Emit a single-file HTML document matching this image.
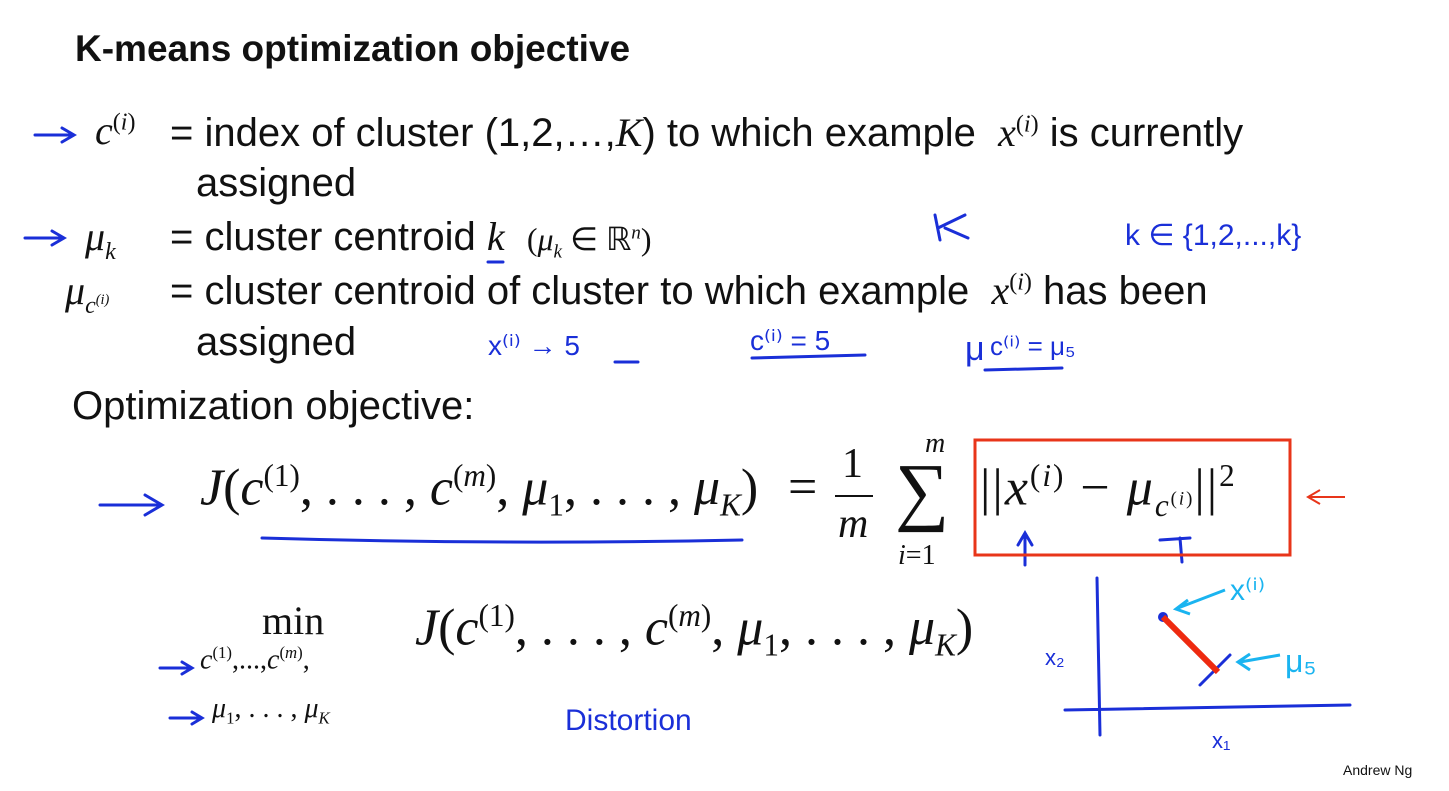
<!DOCTYPE html>
<html><head><meta charset="utf-8"><style>
body{margin:0;width:1449px;height:791px;background:#fff;position:relative;overflow:hidden;font-family:"Liberation Sans",sans-serif;color:#111}
.t{position:absolute;white-space:nowrap;font-size:40px;line-height:1.15}
.m{font-family:"Liberation Serif",serif;font-style:italic}
.r{font-family:"Liberation Serif",serif}
sup,sub{font-size:60%}
</style></head><body>
<div class="t" style="left:75px;top:28px;font-size:37px;font-weight:bold">K-means optimization objective</div>

<div class="t" style="left:95px;top:108px"><span class="m">c</span><sup class="r">(<i>i</i>)</sup></div>
<div class="t" style="left:170px;top:110px">= index of cluster (1,2,…,<span class="m">K</span>) to which example &nbsp;<span class="m">x</span><sup class="r">(<i>i</i>)</sup> is currently</div>
<div class="t" style="left:196px;top:160px">assigned</div>

<div class="t" style="left:85px;top:214px"><span class="m">μ<sub>k</sub></span></div>
<div class="t" style="left:170px;top:214px">= cluster centroid <span class="m">k</span> &nbsp;<span class="r" style="font-size:32px">(<i>μ<sub>k</sub></i> ∈ ℝ<sup><i>n</i></sup>)</span></div>

<div class="t" style="left:65px;top:268px"><span class="m">μ<sub>c<sup>(i)</sup></sub></span></div>
<div class="t" style="left:170px;top:268px">= cluster centroid of cluster to which example &nbsp;<span class="m">x</span><sup class="r">(<i>i</i>)</sup> has been</div>
<div class="t" style="left:196px;top:319px">assigned</div>

<div class="t" style="left:72px;top:383px">Optimization objective:</div>

<div class="t r" style="left:200px;top:458px;font-size:52px"><i>J</i>(<i>c</i><sup>(1)</sup>, . . . , <i>c</i><sup>(<i>m</i>)</sup>, <i>μ</i><sub>1</sub>, . . . , <i>μ<sub>K</sub></i>)</div>
<div class="t r" style="left:788px;top:458px;font-size:52px">=</div>
<div class="t r" style="left:842px;top:440px;font-size:42px">1</div>
<div style="position:absolute;left:835px;top:495px;width:38px;height:2px;background:#111"></div>
<div class="t r m" style="left:838px;top:500px;font-size:42px">m</div>
<div class="t r" style="left:895px;top:448px;font-size:76px">∑</div>
<div class="t r m" style="left:925px;top:428px;font-size:28px">m</div>
<div class="t r" style="left:898px;top:540px;font-size:28px"><i>i</i>=1</div>
<div class="t r" style="left:980px;top:458px;font-size:52px;letter-spacing:2px">||<i>x</i><sup>(<i>i</i>)</sup> − <i>μ</i><sub><i>c</i><sup>(<i>i</i>)</sup></sub>||<sup>2</sup></div>

<div class="t r" style="left:262px;top:598px;font-size:40px">min</div>
<div class="t r" style="left:200px;top:643px;font-size:28px"><i>c</i><sup>(1)</sup>,...,<i>c</i><sup>(<i>m</i>)</sup>,</div>
<div class="t r" style="left:212px;top:693px;font-size:28px"><i>μ</i><sub>1</sub>, . . . , <i>μ<sub>K</sub></i></div>
<div class="t r" style="left:415px;top:598px;font-size:52px"><i>J</i>(<i>c</i><sup>(1)</sup>, . . . , <i>c</i><sup>(<i>m</i>)</sup>, <i>μ</i><sub>1</sub>, . . . , <i>μ<sub>K</sub></i>)</div>

<div class="t" style="left:1343px;top:762px;font-size:14px">Andrew Ng</div>

<svg style="position:absolute;left:0;top:0" width="1449" height="791">
<g stroke="#1a2fd8" stroke-width="3" fill="none" stroke-linecap="round">
<path d="M35 135 L72 135 M62 128 L74 135 L62 142"/>
<path d="M25 238 L62 238 M52 231 L64 238 L52 245"/>
<path d="M100 505 L160 505 M145 495 L162 505 L145 515"/>
<path d="M160 668 L190 668 M182 662 L192 668 L182 674"/>
<path d="M170 718 L200 718 M192 712 L202 718 L192 724"/>
<path d="M262 538 Q500 545 742 540"/>
<path d="M488 262 L503 262"/>
<path d="M935 215 L940 240 M938 228 L965 215 M945 228 L968 238"/>
<text x="1125" y="245" font-family="Liberation Sans" font-size="30" fill="#1a2fd8" stroke="none">k ∈ {1,2,...,k}</text>
<text x="488" y="355" font-family="Liberation Sans" font-size="28" fill="#1a2fd8" stroke="none">x⁽ⁱ⁾ → 5</text>
<path d="M615 362 L638 362"/>
<text x="750" y="350" font-family="Liberation Sans" font-size="28" fill="#1a2fd8" stroke="none">c⁽ⁱ⁾ = 5</text>
<path d="M752 358 L865 355"/>
<text x="965" y="360" font-family="Liberation Sans" font-size="34" fill="#1a2fd8" stroke="none">μ</text>
<text x="990" y="355" font-family="Liberation Sans" font-size="26" fill="#1a2fd8" stroke="none">c⁽ⁱ⁾ = μ₅</text>
<path d="M985 370 L1062 368"/>
<path d="M1025 565 L1025 535 M1018 545 L1025 533 L1032 545"/>
<path d="M1160 540 L1190 538 M1180 538 L1182 562"/>
<text x="565" y="730" font-family="Liberation Sans" font-size="30" fill="#1a2fd8" stroke="none">Distortion</text>
<path d="M1097 578 L1100 735 M1065 710 L1350 705"/>
<text x="1045" y="665" font-family="Liberation Sans" font-size="22" fill="#1a2fd8" stroke="none">x₂</text>
<text x="1212" y="748" font-family="Liberation Sans" font-size="22" fill="#1a2fd8" stroke="none">x₁</text>
<path d="M1200 685 L1230 655"/>
</g>
<circle cx="1163" cy="617" r="5" fill="#1a2fd8"/>
<path d="M1163 617 L1218 672" stroke="#ee2a10" stroke-width="6"/>
<rect x="975" y="440" width="315" height="115" fill="none" stroke="#e8351a" stroke-width="3"/>
<path d="M1345 497 L1310 497 M1320 490 L1308 497 L1320 504" stroke="#e8351a" stroke-width="2" fill="none"/>
<g stroke="#1ab4f0" stroke-width="3" fill="none">
<path d="M1225 590 L1178 608 M1188 600 L1176 609 L1190 614"/>
<path d="M1280 655 L1240 662 M1250 654 L1238 662 L1250 670"/>
</g>
<text x="1230" y="600" font-family="Liberation Sans" font-size="30" fill="#1ab4f0">x⁽ⁱ⁾</text>
<text x="1285" y="672" font-family="Liberation Sans" font-size="32" fill="#1ab4f0">μ₅</text>
</svg>
</body></html>
